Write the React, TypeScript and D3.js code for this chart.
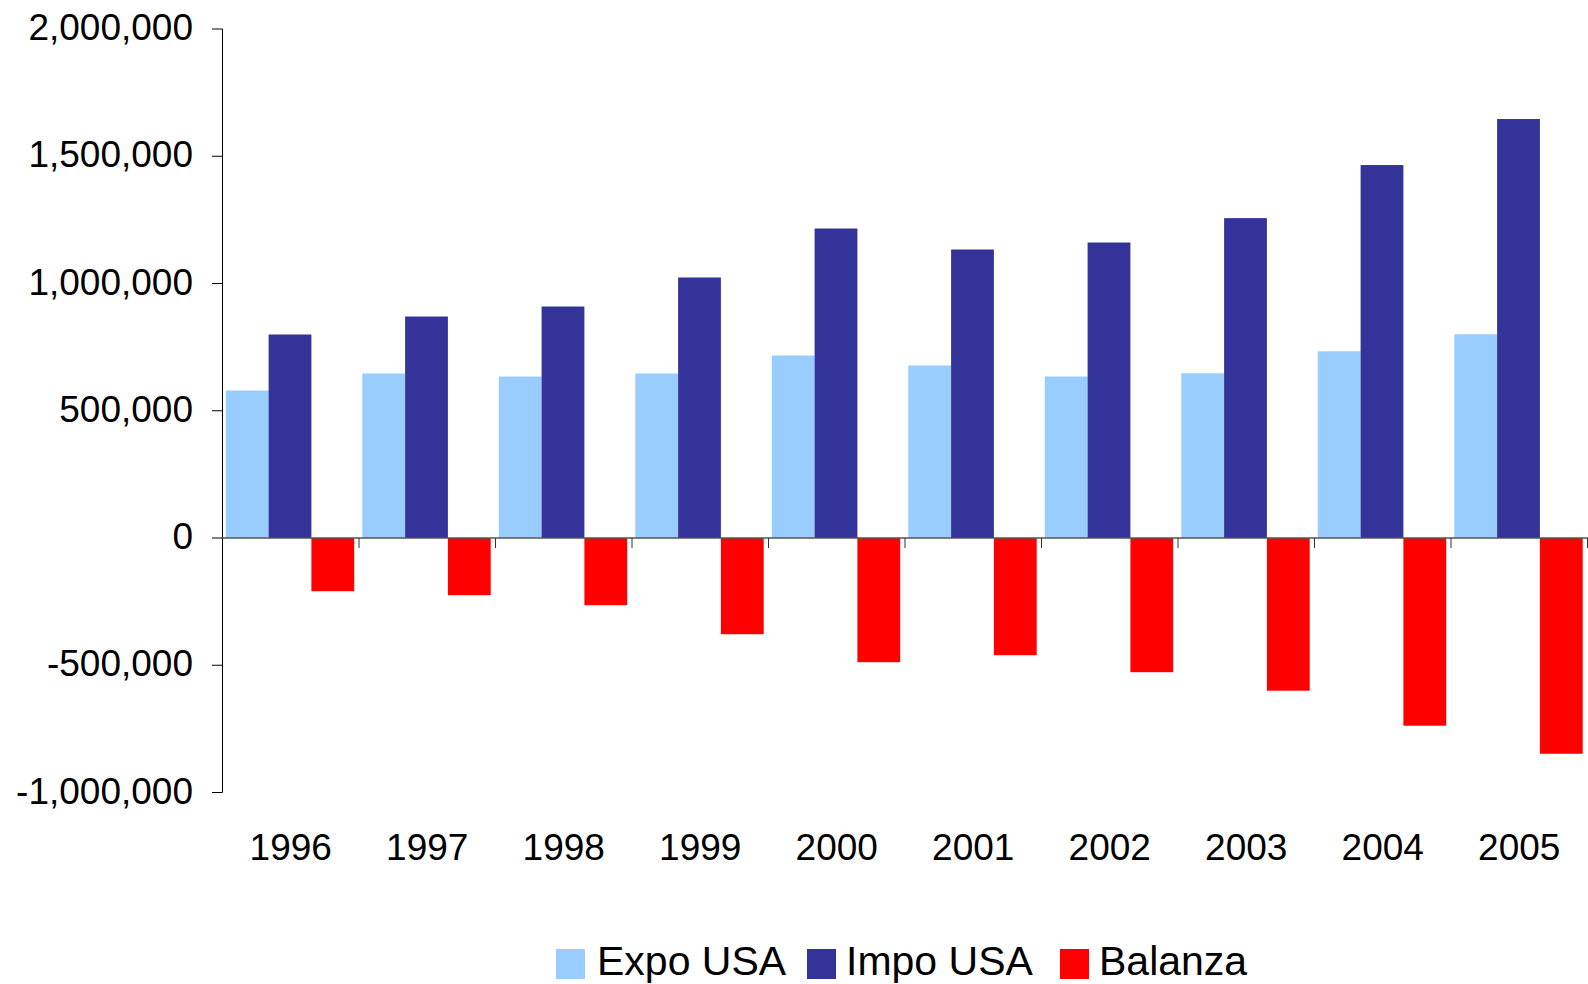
import React from "react";
import * as d3 from "d3";

const years = ["1996", "1997", "1998", "1999", "2000", "2001", "2002", "2003", "2004", "2005"];
const expoUSA = [579600, 646400, 634600, 646400, 717100, 677800, 634600, 647100, 733700, 800500];
const impoUSA = [799600, 870300, 909600, 1023600, 1216100, 1133600, 1161100, 1256900, 1465400, 1646300];
const balanza = [-209000, -224700, -264000, -378000, -488000, -460500, -527300, -600000, -737600, -847800];
const yTicks = [-1000000, -500000, 0, 500000, 1000000, 1500000, 2000000];
const seriesNames = ["Expo USA", "Impo USA", "Balanza"];
const seriesColors = ["#99CCFF", "#333399", "#FF0000"];

const W = 1588;
const H = 984;
const FONT = "'Liberation Sans', Arial, sans-serif";

export default function App() {
  const seriesValues = [expoUSA, impoUSA, balanza];
  const y = d3.scaleLinear().domain([-1000000, 2000000]).range([792.5, 29]);
  const x0 = d3.scaleBand<string>().domain(years).range([222.5, 1587.5]).padding(0);
  const x1 = d3.scaleBand<string>().domain(seriesNames).range([3.3, 3.3 + 128.4]).padding(0);
  const fmt = d3.formatLocale({ decimal: ".", thousands: ",", grouping: [3], currency: ["$", ""], minus: "-" }).format(",");
  const axisX = 222.5;
  const y0 = y(0);

  const legendItems = [
    { rx: 556, tx: 597 },
    { rx: 807, tx: 846 },
    { rx: 1060, tx: 1099 },
  ];

  return (
    <svg width={W} height={H} style={{ position: "absolute", left: 0, top: 0, background: "#fff" }} fontFamily={FONT}>
      <rect x={0} y={0} width={W} height={H} fill="#fff" />
      {/* bars */}
      {years.map((yr, i) => (
        <g key={yr} transform={`translate(${x0(yr)},0)`}>
          {seriesNames.map((s, j) => {
            const v = seriesValues[j][i];
            const top = y(Math.max(0, v));
            const bot = y(Math.min(0, v));
            return (
              <rect key={s} x={x1(s)} y={top} width={x1.bandwidth()} height={bot - top} fill={seriesColors[j]} />
            );
          })}
        </g>
      ))}
      {/* y axis */}
      <line x1={axisX} x2={axisX} y1={y(2000000)} y2={y(-1000000)} stroke="#000" strokeWidth={1} />
      {yTicks.map((t) => (
        <g key={t}>
          <line x1={212} x2={axisX} y1={y(t)} y2={y(t)} stroke="#000" strokeWidth={1} />
          <text x={193} y={y(t) + 11} textAnchor="end" fontSize={37} fill="#000">
            {fmt(t)}
          </text>
        </g>
      ))}
      {/* zero line and category ticks */}
      <line x1={axisX} x2={W} y1={y0} y2={y0} stroke="#555" strokeWidth={1.3} />
      {years.map((yr) => {
        const bx = (x0(yr) as number) + x0.bandwidth();
        return <line key={"t" + yr} x1={bx} x2={bx} y1={y0} y2={y0 + 10} stroke="#333" strokeWidth={1} />;
      })}
      {years.map((yr) => (
        <text key={"l" + yr} x={(x0(yr) as number) + x0.bandwidth() / 2} y={860} textAnchor="middle" fontSize={37} fill="#000">
          {yr}
        </text>
      ))}
      {/* legend */}
      {seriesNames.map((s, j) => (
        <g key={"lg" + s}>
          <rect x={legendItems[j].rx} y={949} width={29} height={30} fill={seriesColors[j]} />
          <text x={legendItems[j].tx} y={975} fontSize={41} fill="#000">
            {s}
          </text>
        </g>
      ))}
    </svg>
  );
}
